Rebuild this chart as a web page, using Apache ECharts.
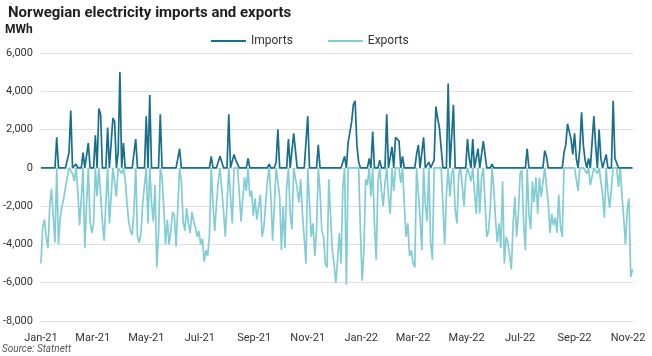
<!DOCTYPE html>
<html>
<head>
<meta charset="utf-8">
<script src="https://cdn.jsdelivr.net/npm/echarts@6/dist/echarts.min.js"></script>
<style>
html,body{margin:0;padding:0;background:#fff;}
#chart{width:652px;height:356px;}
</style>
</head>
<body>
<div id="chart"></div>
<script>
// Series run from 1 Jan 2021, one reading every 2 days (MWh)
var startDate = [2021, 0, 1];
var stepDays = 2;
var seriesNames = ['Imports', 'Exports'];
var tickDates = ['2021-01-01','2021-03-01','2021-05-01','2021-07-01','2021-09-01','2021-11-01',
                 '2022-01-01','2022-03-01','2022-05-01','2022-07-01','2022-09-01','2022-11-01'];
var tickLabels = ['Jan-21','Mar-21','May-21','Jul-21','Sep-21','Nov-21',
                  'Jan-22','Mar-22','May-22','Jul-22','Sep-22','Nov-22'];
var yTicks = [-8000, -6000, -4000, -2000, 0, 2000, 4000, 6000];

var imports = [
0,0,0,0,0,0,0,0,0,1600, 0,0,0,0,0,0,800,3000,0,0, 200,0,0,0,800,0,0,1300,0,0,
0,1700,0,3100,2800,0,0,0,2100,0, 0,2600,2400,0,800,5000,0,1300,0,0, 0,0,0,0,1500,0,0,0,0,0,
2700,0,3800,0,0,0,0,0,2800,0, 0,0,0,0,0,0,0,0,0,1000, 0,0,0,0,0,0,0,0,0,0,
0,0,0,0,0,0,0,600,0,0, 0,0,600,550,0,0,0,2800,0,0, 700,400,400,0,0,0,0,0,500,0,
0,0,0,0,0,0,0,0,0,0, 200,0,0,0,300,2000,0,0,0,0, 0,1500,0,0,1800,1700,0,0,0,0,
0,0,2700,0,0,0,0,0,1200,0, 0,0,0,0,0,0,0,0,0,0, 0,0,0,600,0,1300,1200,2400,3300,3500,
1200,300,0,0,0,0,0,500,0,1900, 0,0,0,400,0,0,0,2800,0,0, 1100,0,1600,1700,1400,0,600,0,0,0,
0,0,0,0,700,1200,0,0,1600,0, 0,300,0,0,400,3200,2600,2100,2200,0, 0,0,4400,0,0,3300,0,0,0,100,
0,0,0,1500,500,0,1500,0,0,1000, 0,0,1400,1300,0,0,0,200,0,0, 0,0,0,0,0,0,0,0,0,0,
0,0,0,0,0,0,0,1000,0,0, 0,0,0,0,0,0,0,900,600,0, 0,0,0,0,0,0,0,0,800,1200,
2300,2400,1500,700,1800,500,0,1000,2900,1200, 400,0,500,0,0,2700,1200,0,2000,500, 0,0,700,0,0,0,3500,500,500,0,
100,0,0,0,0,0,0,0
];

var exports = [
-5000,-3100,-2700,-3600,-4200,-2000,-1100,-2500,-3900,0, -4000,-2600,-2000,-1600,-1000,-900,0,0,-300,-700,
0,-1200,-3000,-1600,0,-4200,-1900,0,-2800,-3400, -2900,0,-1500,0,0,-2800,-3800,-1800,0,-2900,
-1500,0,0,-1500,0,0,-300,0,-600,-1800, -2800,-3300,-3500,-2200,0,-3600,-3900,-3400,-1800,-900,
0,-2900,0,-1800,-2800,-900,-5200,-3500,0,-500, -2100,-4000,-2700,-4000,-3300,-2300,-2500,-4100,-4200,0,
-700,-2800,-3300,-2100,-2900,-3400,-2300,-2800,-3100,-3600, -3300,-4000,-3700,-4900,-4300,-4600,-3500,0,-1900,-3300,
-1900,-700,0,0,-2200,-3600,-1900,0,-1500,-2900, 0,0,0,-1300,-2800,-1600,-500,-1200,0,-1500,
-1200,-2500,-1600,-2700,-2700,-1400,-3600,-3100,-1900,-700, 0,-1500,-3800,-1900,0,0,-1500,-4300,-2000,-4200,
-1000,0,-2400,-3200,0,0,-1100,-1800,-600,-2400, -3700,-5000,0,-1800,-3600,-2900,-4600,-3300,0,-1200,
-3300,-3600,-5000,-5200,-600,-2500,-4300,-5000,-6000,-4800, -3400,-5000,-1000,0,-6100,0,0,0,0,0,
0,0,-3300,-5900,-4300,-600,-900,0,-1500,0, -2900,-4800,-700,0,-1200,-2000,-800,0,-1500,-2400,
0,-1200,0,0,0,-800,0,-1900,-3600,-2900, -4600,-4300,-5000,-5200,0,0,-2600,-4300,0,-1900,
-2800,0,-3900,-4800,0,0,0,0,0,-1900, -4000,-1400,0,-1500,-300,0,-2200,-2900,-400,0,
-900,-2000,-500,0,0,-700,0,-1300,-2400,0, -2400,-500,0,0,-3600,-3300,-2100,0,-1100,-2700,
-3900,-2900,-4200,-700,-5000,-3600,-3900,-4600,-5300,-2900, -1500,-3600,-2400,-300,-100,-2900,-4300,0,-2400,-3200,
-700,-1800,-500,-2400,-500,-1500,-1600,0,0,-1800, -3400,-2400,-3000,-2600,-3400,-1400,-3100,-3600,0,0,
0,0,0,0,0,0,-1200,0,0,0, 0,-300,0,-900,-1000,0,0,-300,0,0, -1400,-2600,0,-1300,-2100,-2000,0,0,0,-1000,
0,-1400,-2600,-4000,-2200,-1600,-5700,-5300
];

var DAY = 86400000;
var t0 = Date.UTC(startDate[0], startDate[1], startDate[2]);
function dayOf(s) {
  var p = s.split('-');
  return Math.round((Date.UTC(+p[0], +p[1] - 1, +p[2]) - t0) / DAY);
}
function pairs(vals) {
  return vals.map(function (v, i) { return [i * stepDays, v]; });
}
var tickDays = tickDates.map(dayOf);
var labelMap = {};
tickDays.forEach(function (d, k) { labelMap[d] = tickLabels[k]; });

var font = 'Roboto, "Noto Sans", sans-serif';
var chart = echarts.init(document.getElementById('chart'), null, {renderer: 'canvas'});
chart.setOption({
  animation: false,
  backgroundColor: '#ffffff',
  title: {
    text: 'Norwegian electricity imports and exports',
    left: 3, top: 1,
    textStyle: {fontFamily: font, fontSize: 15, fontWeight: 'bold', color: '#1e1e1e'}
  },
  legend: {
    data: seriesNames,
    left: 211, top: 35, padding: 0,
    icon: 'rect',
    itemWidth: 35, itemHeight: 2, itemGap: 35,
    textStyle: {fontFamily: font, fontSize: 12, color: '#333'}
  },
  graphic: [
    {type: 'text', left: 5, top: 24, style: {text: 'MWh', fontFamily: font, fontSize: 12, fontWeight: 'bold', fill: '#222'}},
    {type: 'text', left: 2, top: 344, style: {text: 'Source: Statnett', fontFamily: font, fontSize: 10, fontStyle: 'italic', fill: '#555'}}
  ],
  grid: {left: 37, right: 19, top: 53, bottom: 35, containLabel: false},
  xAxis: {
    type: 'value',
    min: 0,
    max: 674.6,
    axisLine: {show: false},
    axisTick: {show: false},
    splitLine: {show: false},
    axisLabel: {
      customValues: tickDays,
      showMinLabel: true, showMaxLabel: true,
      margin: 12,
      fontFamily: font, fontSize: 11, color: '#333',
      formatter: function (v) { return labelMap[v] || ''; }
    }
  },
  yAxis: {
    type: 'value',
    min: yTicks[0], max: yTicks[yTicks.length - 1], interval: 2000,
    axisLine: {show: false},
    axisTick: {show: false},
    splitLine: {lineStyle: {color: '#dedede', width: 1}},
    axisLabel: {
      margin: 8,
      fontFamily: font, fontSize: 11, color: '#333',
      formatter: function (v) { return v.toLocaleString('en-US'); }
    }
  },
  series: [
    {
      name: 'Exports', type: 'line', data: pairs(exports),
      symbol: 'none', color: '#82ccd4',
      lineStyle: {width: 1.7, color: '#82ccd4'}
    },
    {
      name: 'Imports', type: 'line', data: pairs(imports),
      symbol: 'none', color: '#176f8b',
      lineStyle: {width: 1.7, color: '#176f8b'}
    }
  ]
});
</script>
</body>
</html>
